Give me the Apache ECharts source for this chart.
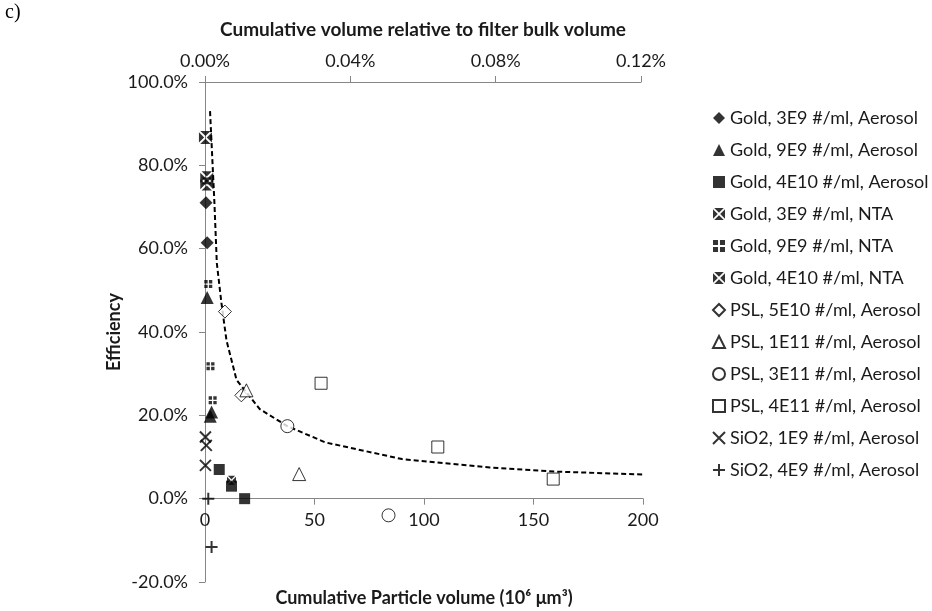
<!DOCTYPE html>
<html>
<head>
<meta charset="utf-8">
<script src="https://cdn.jsdelivr.net/npm/echarts@6/dist/echarts.min.js"></script>
<style>
html,body{margin:0;padding:0;background:#fff;}
#chart{width:932px;height:611px;}
</style>
</head>
<body>
<div id="chart"></div>
<script>
// ---- data (x: cumulative particle volume 10^6 um^3, y: efficiency %) ----
const seriesNames = [
  'Gold, 3E9 #/ml, Aerosol',
  'Gold, 9E9 #/ml, Aerosol',
  'Gold, 4E10 #/ml, Aerosol',
  'Gold, 3E9 #/ml, NTA',
  'Gold, 9E9 #/ml, NTA',
  'Gold, 4E10 #/ml, NTA',
  'PSL, 5E10 #/ml, Aerosol',
  'PSL, 1E11 #/ml, Aerosol',
  'PSL, 3E11 #/ml, Aerosol',
  'PSL, 4E11 #/ml, Aerosol',
  'SiO2, 1E9 #/ml, Aerosol',
  'SiO2, 4E9 #/ml, Aerosol'
];
const goldAerosol3E9 = [[0.45, 71.0], [1.0, 61.4]];
const goldAerosol9E9 = [[1.0, 48.3], [3.0, 20.8], [2.4, 19.8]];
const goldAerosol4E10 = [[6.5, 7.0], [12.1, 3.0], [18.1, 0.0]];
const goldNTA3E9 = [[0.2, 86.7], [0.8, 77.0], [0.8, 75.5]];
const goldNTA9E9 = [[1.5, 51.5], [2.5, 31.8], [3.5, 23.6]];
const goldNTA4E10 = [[12.1, 4.4], [17.7, -20.5]];
const pslAerosol5E10 = [[9.1, 44.9], [16.6, 24.8]];
const pslAerosol1E11 = [[18.9, 26.0], [43.0, 5.9]];
const pslAerosol3E11 = [[37.6, 17.4], [83.8, -4.0]];
const pslAerosol4E11 = [[53.0, 27.7], [106.3, 12.4], [159.0, 4.7]];
const sio2Aerosol1E9 = [[0.2, 14.8], [0.6, 12.8], [0.2, 8.0]];
const sio2Aerosol4E9 = [[1.5, 0.0], [3.0, -11.6]];
const fitX = [2.3, 4.3, 5.4, 7.5, 9.8, 14.4, 25, 37.6, 55, 90, 130, 160, 200];
const fitY = [93, 71, 56.5, 47, 38, 28.5, 21.5, 17.4, 13.5, 9.5, 7.5, 6.5, 5.8];
const bottomTicks = [0, 50, 100, 150, 200];
const topTicks = [0, 0.04, 0.08, 0.12]; // percent
const yTicks = [-20, 0, 20, 40, 60, 80, 100];

// ---- symbols ----
const SYM_XSQUARE = 'path://M1,0L9,0L5,4ZM10,1L10,9L6,5ZM9,10L1,10L5,6ZM0,9L0,1L4,5Z';
const SYM_PLUSSQUARE = 'path://M0,0L4.2,0L4.2,4.2L0,4.2ZM5.8,0L10,0L10,4.2L5.8,4.2ZM0,5.8L4.2,5.8L4.2,10L0,10ZM5.8,5.8L10,5.8L10,10L5.8,10Z';
const SYM_X = 'path://M0,0L10,10M10,0L0,10';
const SYM_PLUS = 'path://M5,0L5,10M0,5L10,5';

const FONT = 'Lato';
const AXIS_COLOR = '#868686';
const TEXT_COLOR = '#1a1a1a';

// ---- layout ----
const PLOT_LEFT = 205, PLOT_TOP = 82, PLOT_W = 438, PLOT_H = 500;
const yMin = yTicks[0], yMax = yTicks[yTicks.length - 1];
const zeroH = PLOT_H * (yMax - 0) / (yMax - yMin); // height from top to the 0% line

const chart = echarts.init(document.getElementById('chart'), null, {renderer: 'canvas'});

function pts(name, data, symbol, size, filled, extra) {
  const s = {
    name: name, type: 'scatter', xAxisIndex: 0, yAxisIndex: 0,
    data: data, symbol: symbol, symbolSize: size,
    itemStyle: filled
      ? {color: '#000', borderWidth: 0}
      : {color: '#fff', borderColor: '#000', borderWidth: 1},
    emphasis: {disabled: true}, z: 3
  };
  return Object.assign(s, extra || {});
}
const strokeOnly = {itemStyle: {color: 'rgba(0,0,0,0)', borderColor: '#000', borderWidth: 2}};

const series = [
  pts(seriesNames[0], goldAerosol3E9, 'diamond', 13, true),
  pts(seriesNames[1], goldAerosol9E9, 'triangle', 13, true),
  pts(seriesNames[2], goldAerosol4E10, 'rect', 11, true),
  pts(seriesNames[3], goldNTA3E9, SYM_XSQUARE, 13, true),
  pts(seriesNames[4], goldNTA9E9, SYM_PLUSSQUARE, 8, true),
  pts(seriesNames[5], goldNTA4E10, SYM_XSQUARE, 9, true),
  pts(seriesNames[6], pslAerosol5E10, 'diamond', 13, false),
  pts(seriesNames[7], pslAerosol1E11, 'triangle', 13, false),
  pts(seriesNames[8], pslAerosol3E11, 'circle', 13, false),
  pts(seriesNames[9], pslAerosol4E11, 'rect', 12, false),
  pts(seriesNames[10], sio2Aerosol1E9, SYM_X, 11, false, strokeOnly),
  pts(seriesNames[11], sio2Aerosol4E9, SYM_PLUS, 12, false, strokeOnly),
  {
    name: 'fit', type: 'line', xAxisIndex: 0, yAxisIndex: 0,
    data: fitX.map((x, i) => [x, fitY[i]]),
    symbol: 'none', smooth: false,
    lineStyle: {color: '#000', width: 2, type: [5, 3]},
    emphasis: {disabled: true}, z: 2
  },
  {name: 'topHelper', type: 'scatter', xAxisIndex: 1, yAxisIndex: 1, data: [], silent: true},
  {name: 'bottomHelper', type: 'scatter', xAxisIndex: 2, yAxisIndex: 2, data: [], silent: true}
];

const gridBase = {outerBoundsMode: 'none', containLabel: false};
const option = {
  animation: false,
  backgroundColor: '#fff',
  textStyle: {fontFamily: FONT},
  title: {
    text: 'c)', left: 0, top: -2,
    textStyle: {fontFamily: 'Liberation Serif', fontSize: 20, fontWeight: 'normal', color: '#000'}
  },
  grid: [
    Object.assign({left: PLOT_LEFT, top: PLOT_TOP, width: PLOT_W, height: PLOT_H}, gridBase),
    Object.assign({left: PLOT_LEFT, top: PLOT_TOP, width: PLOT_W - 2, height: PLOT_H}, gridBase),
    Object.assign({left: PLOT_LEFT, top: PLOT_TOP, width: PLOT_W, height: zeroH}, gridBase)
  ],
  legend: {
    data: seriesNames,
    orient: 'vertical', left: 707, top: 104,
    itemWidth: 12, itemHeight: 12, itemGap: 14,
    selectedMode: false,
    textStyle: {fontFamily: FONT, fontSize: 18, color: TEXT_COLOR, lineHeight: 18}
  },
  xAxis: [
    {
      gridIndex: 0, type: 'value', show: false,
      min: bottomTicks[0], max: bottomTicks[bottomTicks.length - 1], interval: 50
    },
    {
      gridIndex: 1, type: 'value', position: 'top',
      min: topTicks[0] * 100, max: topTicks[topTicks.length - 1] * 100, interval: 4,
      axisLine: {show: true, onZero: false, lineStyle: {color: AXIS_COLOR, width: 1}},
      axisTick: {show: true, length: 6, lineStyle: {color: AXIS_COLOR}},
      splitLine: {show: false},
      axisLabel: {fontFamily: FONT, fontSize: 18, color: TEXT_COLOR, margin: 12,
        formatter: v => (v / 100).toFixed(2) + '%'},
      name: 'Cumulative volume relative to filter bulk volume',
      nameLocation: 'middle', nameGap: 43,
      nameTextStyle: {fontFamily: FONT, fontSize: 19, fontWeight: 'bold', color: TEXT_COLOR}
    },
    {
      gridIndex: 2, type: 'value', position: 'bottom',
      min: bottomTicks[0], max: bottomTicks[bottomTicks.length - 1], interval: 50,
      axisLine: {show: true, onZero: false, lineStyle: {color: AXIS_COLOR, width: 1}},
      axisTick: {show: true, length: 6, lineStyle: {color: AXIS_COLOR}},
      splitLine: {show: false},
      axisLabel: {fontFamily: FONT, fontSize: 18, color: TEXT_COLOR, margin: 13},
      name: 'Cumulative Particle volume (10\u2076 \u03bcm\u00b3)',
      nameLocation: 'middle', nameGap: 91,
      nameTextStyle: {fontFamily: FONT, fontSize: 18, fontWeight: 'bold', color: TEXT_COLOR}
    }
  ],
  yAxis: [
    {
      gridIndex: 0, type: 'value',
      min: yMin, max: yMax, interval: 20,
      axisLine: {show: true, onZero: false, lineStyle: {color: AXIS_COLOR, width: 1}},
      axisTick: {show: true, length: 6, lineStyle: {color: AXIS_COLOR}},
      splitLine: {show: false},
      axisLabel: {fontFamily: FONT, fontSize: 18, color: TEXT_COLOR, margin: 17,
        formatter: v => v.toFixed(1) + '%'},
      name: 'Efficiency', nameLocation: 'middle', nameGap: 80, nameRotate: 90,
      nameTextStyle: {fontFamily: FONT, fontSize: 18, fontWeight: 'bold', color: TEXT_COLOR}
    },
    {gridIndex: 1, type: 'value', min: 0, max: 1, show: false},
    {gridIndex: 2, type: 'value', min: 0, max: 1, show: false}
  ],
  series: series
};
chart.setOption(option);
</script>
</body>
</html>
